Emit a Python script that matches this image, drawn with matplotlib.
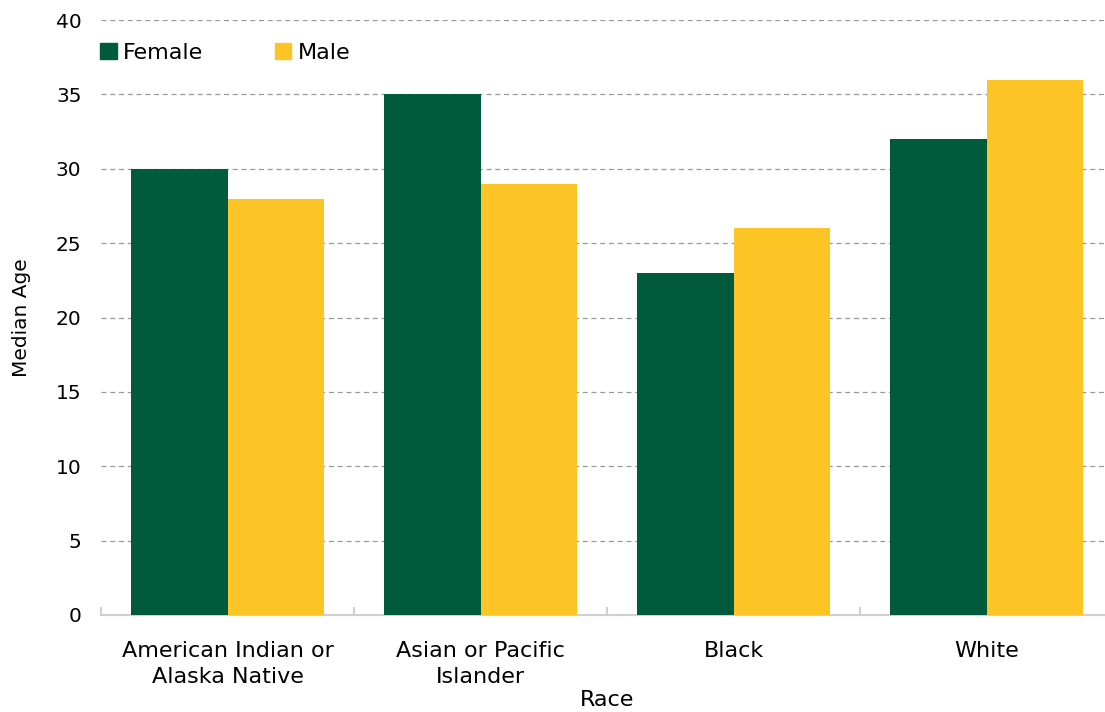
import numpy as np
import matplotlib.pyplot as plt
from matplotlib.patches import Patch

# Datos
races = ['American Indian or\nAlaska Native', 'Asian or Pacific\nIslander', 'Black', 'White']
female = [30, 35, 23, 32]
male = [28, 29, 26, 36]

green = '#005a3c'
yellow = '#fdc426'

fig = plt.figure(figsize=(11.05, 7.12), dpi=100)
ax = fig.add_axes([101 / 1105, 97 / 712, 1012 / 1105, 595 / 712])

x = np.arange(len(races))
w = 0.383
ax.bar(x - w / 2, female, w, color=green, label='Female', zorder=3)
ax.bar(x + w / 2, male, w, color=yellow, label='Male', zorder=3)

ax.set_xlim(-0.5, len(races) - 0.5)
ax.set_ylim(0, 40)
ax.set_yticks(range(0, 41, 5))
ax.yaxis.grid(True, linestyle=(0, (4, 3)), color='#999999', linewidth=0.9, zorder=0)
ax.tick_params(axis='y', length=0, labelsize=14.5, pad=14)

ax.set_xticks(x)
ax.set_xticklabels(races, fontsize=16, linespacing=1.35)
ax.tick_params(axis='x', which='major', length=0, pad=19)
ax.set_xticks(np.arange(-0.5, len(races)), minor=True)
ax.tick_params(axis='x', which='minor', direction='in', length=6, color='#d0d0d0', width=1.5)

for s in ['top', 'right', 'left']:
    ax.spines[s].set_visible(False)
ax.spines['bottom'].set_color('#d0d0d0')
ax.spines['bottom'].set_linewidth(1.5)

ax.set_xlabel('Race', fontsize=16, labelpad=2)
ax.set_ylabel('Median Age', fontsize=14.5, labelpad=18)

handles = [Patch(color=green), Patch(color=yellow)]
fig.legend(handles, ['Female', 'Male'], loc='center left',
           bbox_to_anchor=(100 / 1105, 659 / 712), ncol=2, frameon=False,
           fontsize=16, handlelength=0.75, handleheight=0.75, handletextpad=0.3,
           columnspacing=3.2, borderpad=0, borderaxespad=0)

plt.savefig('out.png', dpi=100)
